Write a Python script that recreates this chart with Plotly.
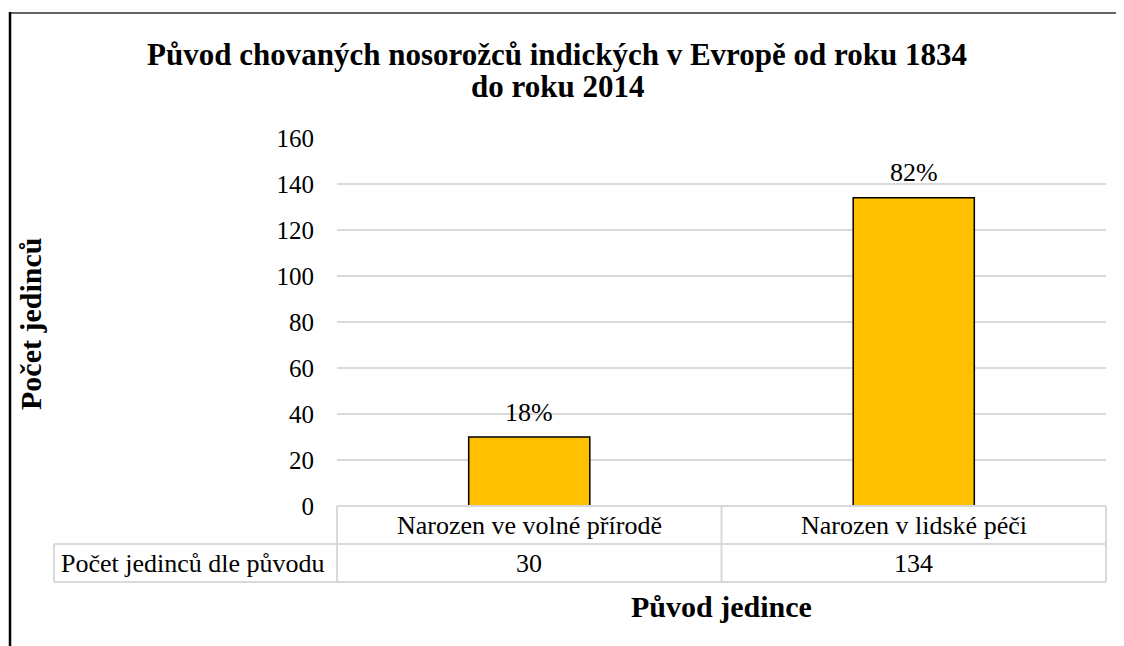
import plotly.graph_objects as go

categories = ["Narozen ve volné přírodě", "Narozen v lidské péči"]
values = [30, 134]
y_ticks = [0, 20, 40, 60, 80, 100, 120, 140, 160]
title_lines = ["Původ chovaných nosorožců indických v Evropě od roku 1834", "do roku 2014"]
y_title = "Počet jedinců"
x_title = "Původ jedince"
row_header = "Počet jedinců dle původu"

OFF = 8  # page body margin
W, H = 1124 - OFF, 646 - OFF
PL, PT, PW, PH = 337, 138, 769, 368  # plot area in page pixels
L, T = PL - OFF, PT - OFF
R, B = W - L - PW, H - T - PH

def px(xp):
    return (xp - PL) / PW

def py(yp):
    return (PT + PH - yp) / PH

FONT = "Liberation Serif"
total = sum(values)
pct = [f"{round(v / total * 100)}%" for v in values]

fig = go.Figure()
fig.add_trace(go.Bar(
    x=categories, y=values,
    marker=dict(color="#FFC000", line=dict(color="#000000", width=1.5)),
    hoverinfo="skip", showlegend=False,
))

annotations = []
for c, v, p in zip(categories, values, pct):
    annotations.append(dict(x=c, y=v, xref="x", yref="y", text=p, showarrow=False,
                            yanchor="middle", yshift=25,
                            font=dict(family=FONT, size=26, color="#000")))
    annotations.append(dict(x=c, y=py(525), xref="x", yref="paper", text=c, showarrow=False,
                            yanchor="middle", font=dict(family=FONT, size=26, color="#000")))
    annotations.append(dict(x=c, y=py(563), xref="x", yref="paper", text=str(v), showarrow=False,
                            yanchor="middle", font=dict(family=FONT, size=26, color="#000")))

annotations.append(dict(x=px(193), y=py(563), xref="paper", yref="paper", text=row_header,
                        showarrow=False, xanchor="center", yanchor="middle",
                        font=dict(family=FONT, size=26, color="#000")))
annotations.append(dict(x=px(721.5), y=py(606), xref="paper", yref="paper", text=f"<b>{x_title}</b>",
                        showarrow=False, xanchor="center", yanchor="middle",
                        font=dict(family=FONT, size=30, color="#000")))
annotations.append(dict(x=px(30), y=py(324), xref="paper", yref="paper", text=f"<b>{y_title}</b>",
                        showarrow=False, xanchor="center", yanchor="middle", textangle=-90,
                        font=dict(family=FONT, size=30, color="#000")))
for line_text, yc in zip(title_lines, [54, 86]):
    annotations.append(dict(x=px(557), y=py(yc), xref="paper", yref="paper", text=f"<b>{line_text}</b>",
                            showarrow=False, xanchor="center", yanchor="middle",
                            font=dict(family=FONT, size=31, color="#000")))

grey = "#d9d9d9"
shapes = []
def line(x0, y0, x1, y1, color=grey, width=2):
    shapes.append(dict(type="line", xref="paper", yref="paper",
                       x0=px(x0), y0=py(y0), x1=px(x1), y1=py(y1),
                       line=dict(color=color, width=width)))

# table
line(337, 506, 1106, 506)
line(54, 544, 1106, 544)
line(54, 582, 1106, 582)
line(54, 544, 54, 582)
line(337, 506, 337, 582)
line(721.5, 506, 721.5, 582)
line(1106, 506, 1106, 582)
# outer frame
line(9, 13, 1200, 13, color="#666666", width=2)
line(10, 12, 10, 700, color="#000000", width=2.5)

fig.update_layout(
    width=W, height=H,
    margin=dict(l=L, r=R, t=T, b=B),
    paper_bgcolor="white", plot_bgcolor="white",
    bargap=0.685,
    xaxis=dict(range=[-0.5, 1.5], showticklabels=False, showgrid=False, zeroline=False,
               showline=False, fixedrange=True),
    yaxis=dict(range=[0, 160], tickvals=y_ticks, showgrid=True, gridcolor=grey, gridwidth=1.5,
               zeroline=False, showline=False, ticklabelstandoff=22,
               tickfont=dict(family=FONT, size=25, color="#000")),
    annotations=annotations,
    shapes=shapes,
    font=dict(family=FONT, color="#000"),
)

fig.write_html("out.html")
